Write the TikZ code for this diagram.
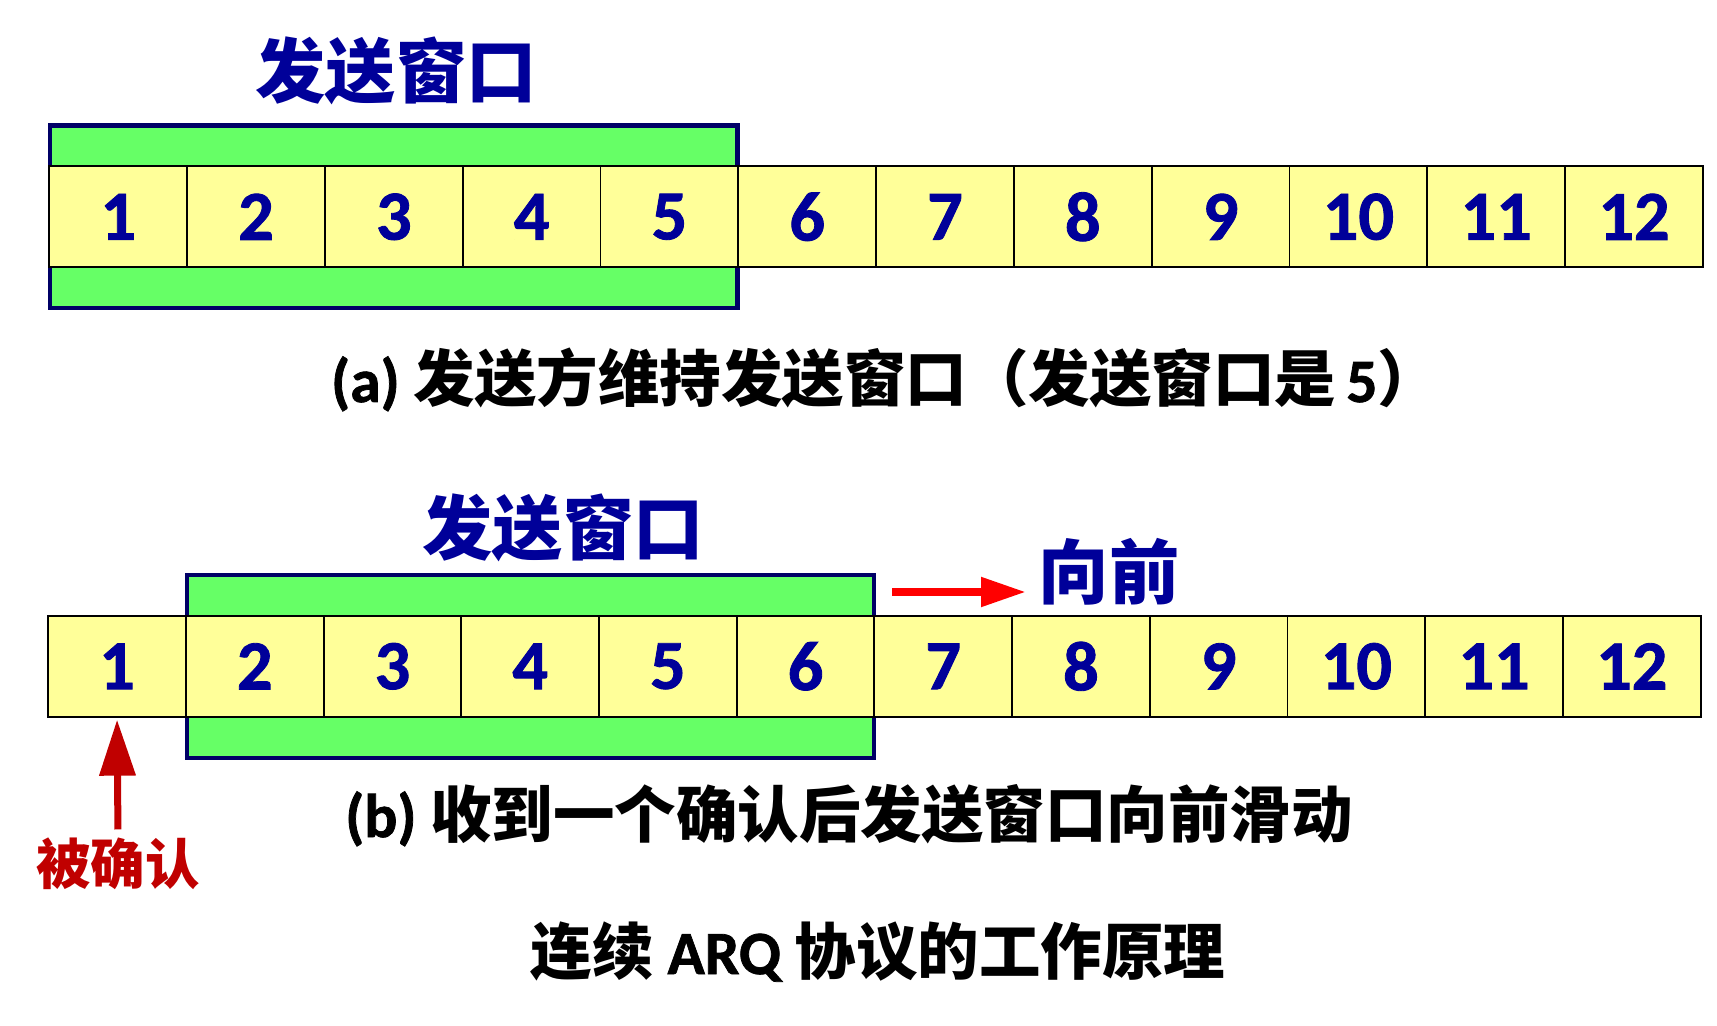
\documentclass[tikz,border=0pt]{standalone}
\usepackage{fontspec}
\setmainfont{Carlito}[BoldFeatures={FakeBold=1.2}]
\newfontfamily\cjk{Noto Sans CJK SC}
\usepackage{tikz}
\usetikzlibrary{arrows.meta, positioning, fit, backgrounds}
\definecolor{navy}{RGB}{0, 0, 153}
\definecolor{winedge}{RGB}{0, 0, 102}
\definecolor{wingreen}{RGB}{102, 255, 102}
\definecolor{cellyellow}{RGB}{255, 255, 153}
\definecolor{ackred}{RGB}{192, 0, 0}
\definecolor{movered}{RGB}{255, 0, 0}
\newcommand{\zh}[1]{{\cjk\bfseries #1}}

\begin{document}
\begin{tikzpicture}[
  x=0.02cm, y=-0.02cm,
  cell/.style={draw=black, line width=1.1pt, fill=cellyellow, minimum width=2.756cm, minimum height=2.016cm, inner sep=0pt, text=navy, font=\fontsize{40}{48}\selectfont\bfseries},
  window/.style={draw=winedge, line width=2.4pt, fill=wingreen, inner xsep=-1pt, inner ysep=0.8cm},
  title/.style={text=navy, font=\fontsize{40}{48}\selectfont\cjk\bfseries, anchor=base, inner sep=0pt},
  caption/.style={text=black, font=\fontsize{35}{42}\selectfont\bfseries, anchor=base, inner sep=0pt},
  arrow/.style={-{Triangle[length=0.9cm, width=0.56cm]}, line width=0.16cm, color=movered},
  ackarrow/.style={-{Triangle[length=1.12cm, width=0.7cm]}, line width=0.14cm, color=ackred}
]
  \useasboundingbox (0,0) rectangle (1717,1026);

  % (a) window of 5
  \foreach \i in {1,...,12}
    \node[cell] (a\i) at ({49.3+(\i-0.5)*137.8}, 216.8) {\i};
  \begin{scope}[on background layer]
    \node[window, fit=(a1)(a5)] (wa) {};
  \end{scope}
  \node[title] (ta) at (396, 98) {发送窗口};
  \node[caption] (capa) at (885, 402) {(a) \zh{发送方维持发送窗口（发送窗口是}\,5\zh{）}};

  % (b) window slid by one
  \foreach \i in {1,...,12}
    \node[cell] (b\i) at ({48.2+(\i-0.5)*137.7}, 666.3) {\i};
  \begin{scope}[on background layer]
    \node[window, fit=(b2)(b6)] (wb) {};
  \end{scope}
  \node[title] (tb) at (563, 555) {发送窗口};
  \node[title] (fwd) at (1109, 599) {向前};
  \coordinate (mvS) at (892, 592);
  \coordinate (mvE) at (1026, 592);
  \draw[arrow] (mvS) -- (mvE);

  \node[title, text=ackred, font=\fontsize{31}{37}\selectfont\cjk\bfseries] (acked) at (118, 884) {被确认};
  \draw[ackarrow, shorten <=0.15cm, shorten >=0.04cm] (acked.north) -- (b1.south);
  \node[caption] (capb) at (849, 837) {(b) \zh{收到一个确认后发送窗口向前滑动}};

  % bottom title
  \node[caption] (main) at (878, 974) {\zh{连续} ARQ \zh{协议的工作原理}};
\end{tikzpicture}
\end{document}
